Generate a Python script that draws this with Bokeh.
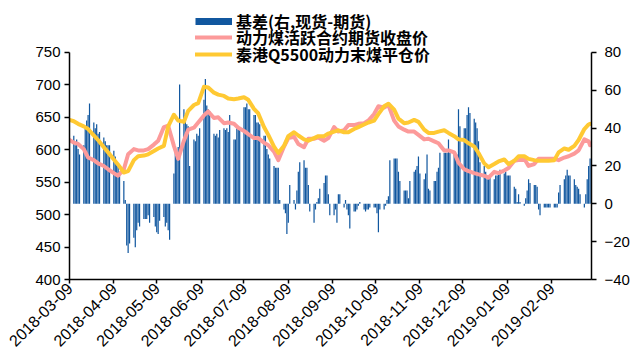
import pandas as pd
from bokeh.plotting import figure
from bokeh.models import (Range1d, LinearAxis, FixedTicker, DatetimeTickFormatter,
                          Legend, LegendItem)
from bokeh.embed import file_html
from bokeh.resources import INLINE

# Basis (spot minus futures), one value per trading day from 2018-03-09
basis = [
    33,
    36, 31, 34, 29, 26,
    31, 40, 44, 47, 53,
    43, 40, 42, 37, 38,
    35, 33, 31, 31, 31,
    28, 25, 22, 20, 17,
    12, 2, -22, -26, -21,
    -18, -23, -14, -10, -12,
    -8, -8, -8, -6, -10,
    -7, -12, -15, -16, -9,
    -7, -12, -10, -14, -19,
    16, 27, 26, 30, 63,
    50, 47, 42, 41, 20,
    34, 33, 37, 36, 40,
    55, 66, 52, 50, 49,
    37, 36, 37, 35, 39,
    40, 39, 40, 38, 47,
    34, 34, 40, 40, 39,
    51, 51, 53, 50, 50,
    47, 47, 43, 43, 42,
    36, 36, 29, 26, 24,
    20, 19, 19, 19,
    2, -3, -5, -16, -10,
    10, 2, -3, 7, 17,
    22, 23, 19, 19, 10,
    -4, -10, -3, 1, 3,
    8, 11, 15, 15, 5,
    -6, -6, -3, -10, 5,
    5, -2, 2, -3, -6,
    -13, -4, -4, -3, -1,
    1, -3, -4, -3, -3,
    -2, -2, -2, -5, -15,
    -3, -3, -1, 2, 4,
    23, 24, 24, 24, 17,
    12, 7, 7, 7, 3,
    12, 17, 18, 20, 25,
    16, 13, 16, 26, 8,
    7, 12, 12, 17,
    19, 27, 27, 27, 27,
    34, 27, 27, 27, 26,
    50, 41, 40, 40, 47,
    51, 48, 45, 43, 40,
    33, 22, 20, 17, 13,
    14, 14, 13, 15, 15,
    17, 18, 16, 17, 15,
    15, 15, 9, 8, 1,
    5, 1, -1, 3, 7,
    13, 11, 10, 10, 9,
    -3, -6, -2, -2, -2,
    -2, -2, -2, -2, -2,
    6, 10, 13, 15, 18,
    15, 15, 13, 10, 9,
    8, 5, -2, 5, 13,
    20, 24,
]

# Prices sampled on 2018-03-09, then every Monday and Thursday, then 2019-03-08
futures_close = [
    615,
    611, 609, 601, 588, 584, 579, 575, 570, 564, 560,
    570, 593, 601, 599, 599, 601, 608, 614, 635, 637,
    606, 586, 614, 631, 634, 642, 653, 659, 649, 650,
    641, 642, 640, 634, 629, 624, 618, 618, 611, 607,
    597, 584, 605, 618, 620, 609, 604, 617, 617, 619,
    614, 618, 635, 628, 630, 638, 638, 640, 641, 645,
    655, 667, 665, 669, 645, 636, 631, 628, 628, 623,
    616, 617, 613, 610, 599, 599, 596, 580, 570, 567,
    564, 562, 560, 557, 566, 564, 568, 572, 583, 584,
    586, 575, 578, 586, 586, 586, 586, 584, 588, 590,
    594, 599, 616, 613,
    607,
]
spot_price = [
    646,
    644, 640, 636, 632, 622, 615, 604, 596, 585, 577,
    565, 567, 584, 590, 591, 593, 598, 602, 606, 636,
    654, 645, 643, 660, 669, 672, 697, 696, 688, 685,
    683, 679, 678, 679, 681, 677, 663, 656, 635, 623,
    605, 595, 606, 621, 627, 622, 616, 614, 618, 621,
    621, 625, 628, 630, 627, 627, 632, 635, 639, 642,
    645, 655, 667, 671, 662, 648, 641, 642, 646, 643,
    631, 626, 626, 628, 630, 626, 621, 616, 615, 610,
    605, 595, 579, 573, 578, 582, 585, 578, 583, 590,
    590, 586, 584, 583, 583, 583, 584, 596, 602, 600,
    606, 615, 632, 639,
    640,
]

series_names = ["基差(右,现货-期货)", "动力煤活跃合约期货收盘价", "秦港Q5500动力末煤平仓价"]
x_ticks = ["2018-03-09", "2018-04-09", "2018-05-09", "2018-06-09", "2018-07-09",
           "2018-08-09", "2018-09-09", "2018-10-09", "2018-11-09", "2018-12-09",
           "2019-01-09", "2019-02-09"]
left_ticks = [400, 450, 500, 550, 600, 650, 700, 750]
right_ticks = [-40, -20, 0, 20, 40, 60, 80]

BLUE = "#11579F"
PINK = "#FC9A9A"
YELLOW = "#FFC933"
TICK_FONT = "Liberation Sans"

bar_dates = pd.bdate_range("2018-03-09", periods=len(basis))
mondays = pd.date_range("2018-03-12", periods=52, freq="7D")
line_dates = ([pd.Timestamp("2018-03-09")]
              + [d + pd.Timedelta(days=off) for d in mondays for off in (0, 3)]
              + [pd.Timestamp("2019-03-08")])

# The plot area reaches the top of the canvas so the key can sit above the
# axes; the axis lines are bounded to the tick span (400-750 / -40-80).
p = figure(width=632, height=356, x_axis_type="datetime",
           output_backend="svg", toolbar_location=None,
           x_range=Range1d(pd.Timestamp("2018-03-09"), pd.Timestamp("2019-03-09")),
           y_range=Range1d(400, 830.1),
           min_border_left=69, min_border_right=41,
           min_border_top=0, min_border_bottom=77)
p.extra_y_ranges = {"basis": Range1d(-40, 107.45)}
p.background_fill_color = "white"
p.border_fill_color = "white"
p.outline_line_color = None
p.xgrid.visible = False
p.ygrid.visible = False

day_ms = 24 * 3600 * 1000
p.vbar(x=bar_dates, top=basis, bottom=0, width=0.85 * day_ms,
       y_range_name="basis", fill_color=BLUE, line_color=None)
pink_r = p.line(line_dates, futures_close, line_width=4, color=PINK,
                line_join="round", line_cap="round")
yellow_r = p.line(line_dates, spot_price, line_width=4, color=YELLOW,
                  line_join="round", line_cap="round")
# key swatch for the basis columns (a single point draws nothing on the plot)
basis_key = p.line(x=[bar_dates[0]], y=[0], y_range_name="basis",
                   line_width=7, color=BLUE)


def style_axis(ax):
    ax.axis_line_color = "black"
    ax.axis_line_width = 1.5
    ax.major_tick_line_color = "black"
    ax.major_tick_line_width = 1.5
    ax.major_tick_in = 0
    ax.major_tick_out = 5
    ax.minor_tick_in = 0
    ax.minor_tick_out = 0
    ax.major_label_text_font = TICK_FONT
    ax.major_label_text_font_size = "15px"
    ax.major_label_text_color = "black"


left = p.yaxis[0]
left.ticker = FixedTicker(ticks=left_ticks)
left.bounds = (400, 750)
style_axis(left)
left.major_label_standoff = 4

right = LinearAxis(y_range_name="basis", ticker=FixedTicker(ticks=right_ticks),
                   bounds=(-40, 80),
                   major_label_overrides={-40: "\u221240", -20: "\u221220"})
style_axis(right)
right.major_label_standoff = 8
p.add_layout(right, "right")

bottom = p.xaxis[0]
bottom.ticker = FixedTicker(ticks=[pd.Timestamp(t).value // 10**6 for t in x_ticks])
fmt = "%Y-%m-%d"
bottom.formatter = DatetimeTickFormatter(days=fmt, months=fmt, years=fmt,
                                         hours=fmt, minutes=fmt)
style_axis(bottom)
bottom.major_tick_out = 4
bottom.major_label_orientation = 0.785398
bottom.major_label_standoff = 2
bottom.major_label_text_font_size = "16px"

# one single-row key per series, stacked tightly above the axes
ROW_H = 24
for name, rend, bottom_y in zip(series_names, [basis_key, pink_r, yellow_r],
                                [246, 230, 213]):
    key = Legend(items=[LegendItem(label=name, renderers=[rend])],
                 location=(126, bottom_y), orientation="vertical")
    key.background_fill_alpha = 0
    key.border_line_alpha = 0
    key.padding = 0
    key.margin = 0
    key.spacing = 0
    key.glyph_width = 37
    key.glyph_height = ROW_H
    key.label_height = ROW_H
    key.label_standoff = 4
    key.label_text_font = "Noto Sans CJK SC"
    key.label_text_font_size = "16px"
    key.label_text_font_style = "bold"
    key.label_text_color = "black"
    p.add_layout(key, "center")

open("out.html", "w").write(file_html(p, INLINE))
